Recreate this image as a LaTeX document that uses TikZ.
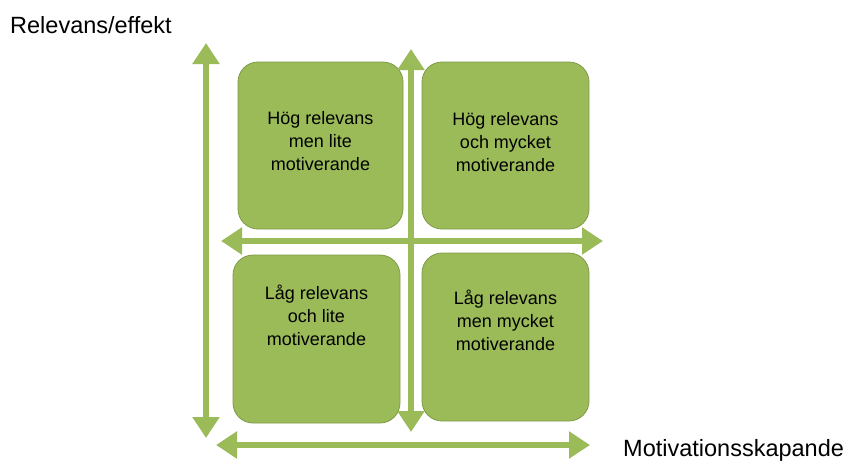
\documentclass[tikz,border=0pt]{standalone}
\usepackage{fontspec}
\setmainfont{Liberation Sans}
\usetikzlibrary{arrows.meta}
\definecolor{gfill}{HTML}{9BBB59}
\definecolor{gline}{HTML}{7E9B48}
\begin{document}
\begin{tikzpicture}[x=1pt,y=-1pt,
  quad/.style={draw=gline,line width=0.8pt,fill=gfill,rounded corners=20pt,minimum width=#1},
  qtext/.style={align=center,font=\fontsize{18}{23}\selectfont,inner sep=0pt},
  axis/.style={gfill,line width=6pt,{Triangle[width=26pt,length=21pt]}-{Triangle[width=26pt,length=21pt]}},
  lab/.style={font=\fontsize{23.5}{28}\selectfont,inner sep=0pt,anchor=base west}]
\useasboundingbox (0,0) rectangle (848,461);
% boxes
\filldraw[draw=gline,line width=0.8pt,fill=gfill,rounded corners=20pt] (238,62) rectangle (403,229) coordinate (tl);
\filldraw[draw=gline,line width=0.8pt,fill=gfill,rounded corners=20pt] (422,62) rectangle (589,229) coordinate (tr);
\filldraw[draw=gline,line width=0.8pt,fill=gfill,rounded corners=20pt] (233,255) rectangle (400,423) coordinate (bl);
\filldraw[draw=gline,line width=0.8pt,fill=gfill,rounded corners=20pt] (422,253) rectangle (589,421) coordinate (br);
% axis end points
\coordinate (vlT) at (206,43);
\coordinate (vlB) at (206,438);
\coordinate (vmT) at (411,49);
\coordinate (vmB) at (411,432);
\coordinate (hmL) at (221,241);
\coordinate (hmR) at (603,241);
\coordinate (hbL) at (216,445);
\coordinate (hbR) at (590,445);
\draw[axis] (hmL) -- (hmR);
\draw[axis] (vmB) -- (vmT);
\draw[axis] (vlB) -- (vlT);
\draw[axis] (hbL) -- (hbR);
% texts
\node[qtext] (t1) at (320.5,141) {Hög relevans\\men lite\\motiverande};
\node[qtext] (t2) at (505.5,142) {Hög relevans\\och mycket\\motiverande};
\node[qtext] (t3) at (316.5,315) {Låg relevans\\och lite\\motiverande};
\node[qtext] (t4) at (505.5,320) {Låg relevans\\men mycket\\motiverande};
\node[lab] (ylab) at (10,33) {Relevans/effekt};
\node[lab] (xlab) at (623,456) {Motivationsskapande};
\end{tikzpicture}
\end{document}
